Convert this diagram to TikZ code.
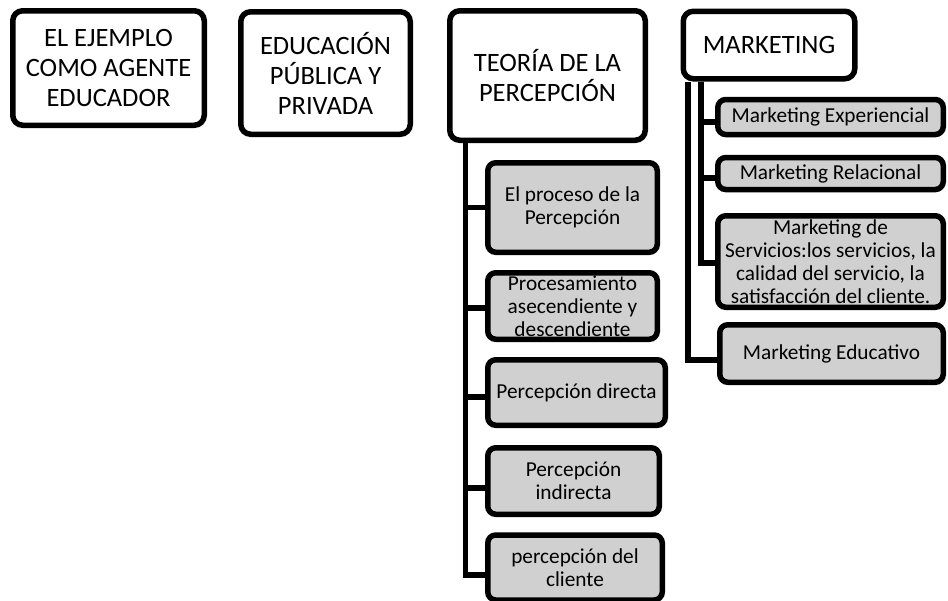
\documentclass[tikz,border=0pt]{standalone}
\usepackage{fontspec}
\setmainfont{Carlito}
\usetikzlibrary{backgrounds}
\definecolor{boxgray}{RGB}{208,208,208}
\begin{document}
\begin{tikzpicture}[x=1pt,y=-1pt,
 topbox/.style={draw=black, line width=5.5pt, rounded corners=10pt, fill=white, align=center, font=\fontsize{26.5}{30}\selectfont, inner sep=0pt},
 subbox/.style={draw=black, line width=5.5pt, rounded corners=8pt, fill=boxgray, align=center, font=\fontsize{21.3}{23}\selectfont, inner sep=0pt},
 link/.style={draw=black, line width=5.5pt}]
\useasboundingbox (0,0) rectangle (948,600);
% top level
\node[topbox, minimum width=191.5pt, minimum height=114.5pt] (ejemplo) at (108.5,68) {EL EJEMPLO\\COMO AGENTE\\EDUCADOR};
\node[topbox, minimum width=169.5pt, minimum height=122.5pt] (educacion) at (325.5,73) {EDUCACIÓN\\PÚBLICA Y\\PRIVADA};
\node[topbox, minimum width=195.5pt, minimum height=129.5pt] (teoria) at (547.5,75.5) {TEORÍA DE LA\\PERCEPCIÓN};
\node[topbox, minimum width=171.5pt, minimum height=67.5pt] (marketing) at (769,45) {MARKETING};
% teoria children
\node[subbox, minimum width=169.5pt, minimum height=89.5pt] (proceso) at (572.5,207.5) {El proceso de la\\Percepción};
\node[subbox, minimum width=169.5pt, minimum height=66.5pt] (procesamiento) at (572.5,306) {Procesamiento\\asecendiente y\\descendiente};
\node[subbox, minimum width=177.5pt, minimum height=65.5pt] (directa) at (576.5,392.5) {Percepción directa};
\node[subbox, minimum width=171.5pt, minimum height=66.5pt] (indirecta) at (573.5,481) {Percepción\\indirecta};
\node[subbox, minimum width=174.5pt, minimum height=65pt] (cliente) at (575,567.5) {percepción del\\cliente};
% marketing children
\node[subbox, minimum width=225.5pt, minimum height=35pt] (experiencial) at (830.5,117) {Marketing Experiencial};
\node[subbox, minimum width=225.5pt, minimum height=32pt] (relacional) at (830.5,173.5) {Marketing Relacional};
\node[subbox, minimum width=225.5pt, minimum height=91.5pt] (servicios) at (830.5,261.5) {Marketing de\\Servicios:los servicios, la\\calidad del servicio, la\\satisfacción del cliente.};
\node[subbox, minimum width=223.5pt, minimum height=57.5pt] (educativo) at (831.5,353.5) {Marketing Educativo};
% connectors
\begin{scope}[on background layer]
\foreach \c/\d in {proceso/0, procesamiento/-2, directa/-4.5, indirecta/-7, cliente/-7.5}{
  \draw[link] ([xshift=-82pt]teoria.south) |- ([yshift=\d pt]\c.west);
}
\foreach \c/\d in {experiencial/-5, relacional/-4.5, servicios/-1.5}{
  \draw[link] ([xshift=-68pt]marketing.south) |- ([yshift=\d pt]\c.west);
}
\draw[link] ([xshift=-81pt]marketing.south) |- ([yshift=-6.5pt]educativo.west);
\end{scope}
\end{tikzpicture}
\end{document}
